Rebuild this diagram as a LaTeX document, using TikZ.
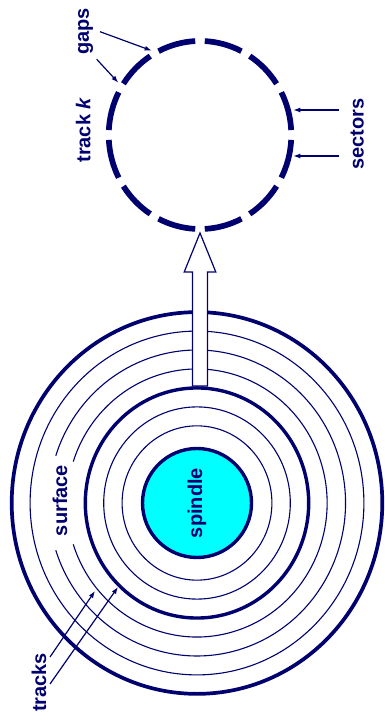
\documentclass[tikz,border=0pt]{standalone}
\usepackage{fontspec}
\setmainfont{Liberation Sans}
\usepackage{xcolor}
\usepackage{tikz}
\usetikzlibrary{arrows.meta}
\definecolor{navy}{RGB}{0,0,110}
\definecolor{spin}{RGB}{0,255,255}

\begin{document}
\begin{tikzpicture}[
  x=1pt, y=1pt, >={Latex[length=7pt,width=5pt]},
  font=\bfseries\fontsize{20}{24}\selectfont,
  lbl/.style={text=navy, rotate=90, inner sep=0pt},
  thinring/.style={draw=navy, line width=1.1pt},
  thickring/.style={draw=navy, line width=3.4pt},
  sector/.style={draw=navy, line width=5.7pt},
  pointer/.style={->, draw=navy, line width=1.2pt},
  hollow/.style={draw=navy, fill=white, line width=1.2pt, line join=miter},
]
\useasboundingbox (0,0) rectangle (385,722);
\coordinate (ctr) at (197,219);
\coordinate (trk) at (200,587);
% platter
\begin{scope}[shift={(ctr)}, yscale=1.03]
  \foreach \r in {74.9,93.3,166.9} \draw[thinring] (0,0) circle (\r);
  \foreach \r in {130.1,148.5}
    \draw[thinring] (-162:\r) arc[start angle=-162, end angle=162, radius=\r];
  \draw[thickring] (0,0) circle (111.7);
  \draw[thickring, line width=3.7pt] (0,0) circle (185.3);
\end{scope}
\node[circle, draw=navy, line width=3.4pt, fill=spin, minimum size=109pt,
  inner sep=0pt, text=navy, rotate=90] (spindle) at (ctr) {spindle};
% track k
\begin{scope}[shift={(trk)}, yscale=1.03]
  \foreach \a in {0,30,...,330}
    \draw[sector] ({\a+3}:91.3) arc[start angle=\a+3, end angle=\a+27, radius=91.3];
\end{scope}
\coordinate (foot) at (200,336);
\draw[hollow, shift={(foot)}] (-7.5,0) -- (-7.5,114) -- (-15.8,114) -- (0,153)
  -- (15.8,114) -- (7.5,114) -- (7.5,0) -- cycle;
% labels
\node[lbl] (gaps) at (85.5,690.5) {gaps};
\node[lbl] (track) at (83.3,592) {track \textit{k}};
\node[lbl] (sectors) at (357.3,588) {sectors};
\node[lbl] (surface) at (60,221.5) {surface};
\node[lbl] (tracks) at (39,39.5) {tracks};
\coordinate (gapA) at (151.7,671.3); \coordinate (gapB) at (118.3,639.3);
\coordinate (secA) at (293.3,612); \coordinate (secB) at (293.3,566);
\coordinate (trA) at (95,131); \coordinate (trB) at (118,135);
\coordinate (gtA) at (100,690.3); \coordinate (gtB) at (96.7,662.7);
\coordinate (stA) at (339.3,612); \coordinate (stB) at (339.3,566);
\coordinate (ttA) at (50,65); \coordinate (ttB) at (50,38);
\draw[pointer] (gtA) -- (gapA); \draw[pointer] (gtB) -- (gapB);
\draw[pointer] (stA) -- (secA); \draw[pointer] (stB) -- (secB);
\draw[pointer] (ttA) -- (trA); \draw[pointer] (ttB) -- (trB);
\end{tikzpicture}
\end{document}
